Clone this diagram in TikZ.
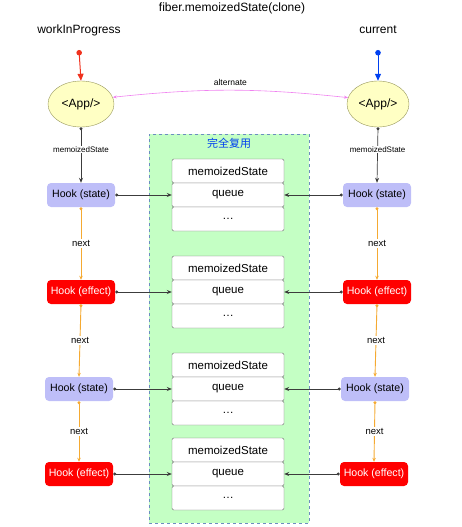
\documentclass[tikz,border=0pt]{standalone}
\usepackage{fontspec}
\setmainfont{Liberation Sans}
\newfontfamily\cjk{Noto Sans CJK SC}
\usepackage{xcolor}
\definecolor{hookLila}{RGB}{190, 190, 248}
\definecolor{hookRojo}{RGB}{255, 0, 0}
\definecolor{appAmarillo}{RGB}{255, 255, 196}
\definecolor{appBorde}{RGB}{150, 150, 90}
\definecolor{verdeReuso}{RGB}{196, 255, 196}
\definecolor{bordeReuso}{RGB}{108, 142, 191}
\definecolor{azulTexto}{RGB}{0, 64, 240}
\definecolor{naranja}{RGB}{245, 170, 50}
\definecolor{rosa}{RGB}{240, 130, 240}
\definecolor{grisLink}{RGB}{60, 60, 60}
\definecolor{grisCelda}{RGB}{110, 110, 110}
\definecolor{rojoPunto}{RGB}{240, 50, 30}
\usetikzlibrary{arrows.meta,shapes.geometric,positioning}
\tikzstyle{link}  =[draw=grisLink, line width=0.7pt,
                    {Circle[length=3pt]}-{Stealth[length=5pt,width=4pt]}]
\tikzstyle{nextlink}=[draw=naranja, line width=0.9pt,
                    {Circle[length=3pt]}-{Stealth[length=4pt,width=3.5pt]}]
\tikzstyle{nextlabel}=[fill=white, inner sep=1pt,
                    font=\fontsize{9.5}{10}\selectfont]
\tikzstyle{hookstate}=[rectangle, rounded corners=4pt, fill=hookLila,
                    minimum width=68pt, minimum height=24pt, inner sep=0pt,
                    font=\fontsize{10.6}{11}\selectfont]
\tikzstyle{hookeffect}=[rectangle, rounded corners=4pt, fill=hookRojo,
                    text=white, minimum width=68pt, minimum height=24pt,
                    inner sep=0pt, font=\fontsize{10.6}{11}\selectfont]
\tikzstyle{cell}=[rectangle, draw=grisCelda, rounded corners=1.5pt,
                    fill=white, minimum width=112pt, minimum height=24pt,
                    inner sep=0pt, font=\fontsize{11.5}{12}\selectfont]
\tikzstyle{app}=[ellipse, draw=appBorde, fill=appAmarillo,
                    minimum width=66pt, minimum height=46pt, inner sep=0pt,
                    font=\fontsize{12}{13}\selectfont]
\tikzstyle{rootlabel}=[font=\fontsize{12}{13}\selectfont]

\begin{document}
\begin{tikzpicture}[x=1pt,y=-1pt]
    \useasboundingbox (0,0) rectangle (461,527);

    % title and roots
    \node (title) at (232,8) [rootlabel] {fiber.memoizedState(clone)};
    \node (wip) at (79,30) [rootlabel] {workInProgress};
    \node (cur) at (378,30) [rootlabel] {current};
    \coordinate (wipdot) at (79,50);
    \coordinate (curdot) at (378,50);
    \node (appL) at (81,104) [app] {<App/>};
    \node (appR) at (378,104) [app, minimum width=62pt] {<App/>};
    \draw [rojoPunto, line width=1pt,
           {Circle[length=5.5pt]}-{Triangle[length=7pt,width=6pt]}] (wipdot) -- (appL.north);
    \draw [azulTexto, line width=1pt,
           {Circle[length=5.5pt]}-{Triangle[length=7pt,width=6pt]}] (curdot) -- (appR.north);
    \draw [rosa, line width=0.6pt,
           {Stealth[length=4pt,width=3pt]}-{Stealth[length=4pt,width=3pt]}]
           (appL.12) to[bend left=6] node[above=1pt, text=black,
           font=\fontsize{8.5}{9}\selectfont] (alt) {alternate} (appR.168);

    % reused area
    \node (reuse) at (149,134) [anchor=north west, rectangle, fill=verdeReuso,
          draw=bordeReuso, dashed, line width=0.6pt,
          minimum width=160pt, minimum height=389pt] {};
    \node (reuseLabel) at (229,143) [text=azulTexto,
          font=\cjk\fontsize{11}{12}\selectfont] {完全复用};

    % hooks and their records
    \foreach \r/\y/\kind/\lx/\rx in {1/195/state/81/377,2/292/effect/81/377,
                                     3/389/state/79/375,4/474/effect/79/374}
    {
        \node (rec\r m) at (228,\y-24) [cell] {memoizedState};
        \node (rec\r q) at (228,\y) [cell] {queue};
        \node (rec\r d) at (228,\y+24) [cell] {\dots};
        \node (L\r) at (\lx,\y) [hook\kind] {Hook (\kind)};
        \node (R\r) at (\rx,\y) [hook\kind] {Hook (\kind)};
        \draw [link] (L\r.east) -- (rec\r q.west);
        \draw [link] (R\r.west) -- (rec\r q.east);
        \ifnum\r>1
            \pgfmathtruncatemacro{\p}{\r-1}
            \draw [nextlink] (L\p.south) -- node[nextlabel] {next} (L\r.north);
            \draw [nextlink] (R\p.south) -- node[nextlabel] {next} (R\r.north);
        \fi
    }

    \draw [link]
           (appL.south) -- node[pos=0.4, fill=white, inner sep=1pt,
           font=\fontsize{8}{9}\selectfont] (msL) {memoizedState} (L1.north);
    \draw [link]
           (appR.south) -- node[pos=0.4, fill=white, inner sep=1pt,
           font=\fontsize{8}{9}\selectfont] (msR) {memoizedState} (R1.north);

\end{tikzpicture}
\end{document}
